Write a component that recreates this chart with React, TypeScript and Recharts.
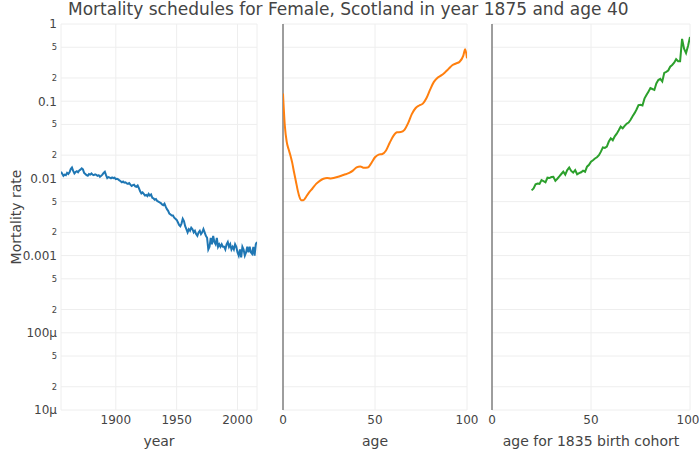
import React from 'react';
import { LineChart, Line, XAxis, YAxis, CartesianGrid, ReferenceLine } from 'recharts';

// Period schedule: age 40 mortality by calendar year
const years = [
  1855, 1856, 1857, 1858, 1859, 1860, 1861, 1862, 1863, 1864, 1865, 1866, 1867, 1868, 1869,
  1870, 1871, 1872, 1873, 1874, 1875, 1876, 1877, 1878, 1879, 1880, 1881, 1882, 1883, 1884,
  1885, 1886, 1887, 1888, 1889, 1890, 1891, 1892, 1893, 1894, 1895, 1896, 1897, 1898, 1899,
  1900, 1901, 1902, 1903, 1904, 1905, 1906, 1907, 1908, 1909, 1910, 1911, 1912, 1913, 1914,
  1915, 1916, 1917, 1918, 1919, 1920, 1921, 1922, 1923, 1924, 1925, 1926, 1927, 1928, 1929,
  1930, 1931, 1932, 1933, 1934, 1935, 1936, 1937, 1938, 1939, 1940, 1941, 1942, 1943, 1944,
  1945, 1946, 1947, 1948, 1949, 1950, 1951, 1952, 1953, 1954, 1955, 1956, 1957, 1958, 1959,
  1960, 1961, 1962, 1963, 1964, 1965, 1966, 1967, 1968, 1969, 1970, 1971, 1972, 1973, 1974,
  1975, 1976, 1977, 1978, 1979, 1980, 1981, 1982, 1983, 1984, 1985, 1986, 1987, 1988, 1989,
  1990, 1991, 1992, 1993, 1994, 1995, 1996, 1997, 1998, 1999, 2000, 2001, 2002, 2003, 2004,
  2005, 2006, 2007, 2008, 2009, 2010, 2011, 2012, 2013, 2014, 2015, 2016,
];
const yearRates = [
  0.0122, 0.0115, 0.0108, 0.0112, 0.011, 0.0118, 0.0114, 0.012, 0.0132, 0.0138, 0.0125, 0.0116, 0.0121, 0.0124, 0.012,
  0.0127, 0.013, 0.0135, 0.0131, 0.0118, 0.0114, 0.011, 0.0108, 0.0114, 0.0112, 0.0116, 0.0112, 0.011, 0.0113, 0.0111,
  0.0108, 0.011, 0.0105, 0.0108, 0.0112, 0.0118, 0.0122, 0.011, 0.0101, 0.0104, 0.0102, 0.01, 0.0103, 0.0101, 0.0102,
  0.0098, 0.0099, 0.0097, 0.0094, 0.0092, 0.0089, 0.0091, 0.0088, 0.0089, 0.0086, 0.0085, 0.0087, 0.0083, 0.008, 0.0082,
  0.0083, 0.0079, 0.0078, 0.0081, 0.0075, 0.0068, 0.0064, 0.0066, 0.0063, 0.006, 0.0061, 0.0059, 0.0063, 0.006, 0.0062,
  0.0056, 0.0055, 0.0053, 0.0054, 0.0051, 0.005, 0.0049, 0.0048, 0.0046, 0.0045, 0.0047, 0.0043, 0.004, 0.0038, 0.0035,
  0.0034, 0.0033, 0.0033, 0.0031, 0.003, 0.0029, 0.0027, 0.0025, 0.0024, 0.0026, 0.003, 0.0028, 0.0024, 0.0022, 0.002,
  0.0022, 0.0021, 0.0023, 0.0022, 0.002, 0.0021, 0.0019, 0.0018, 0.002, 0.0021, 0.0019, 0.002, 0.0022, 0.002, 0.0018,
  0.0017, 0.0012, 0.0013, 0.0017, 0.0014, 0.0018, 0.0015, 0.0014, 0.0017, 0.0013, 0.0014, 0.0013, 0.0014, 0.0013, 0.0013,
  0.0012, 0.0014, 0.0015, 0.0013, 0.0014, 0.0012, 0.0013, 0.0012, 0.0014, 0.0013, 0.0011, 0.001, 0.0012, 0.00095, 0.0013,
  0.0012, 0.001, 0.0011, 0.0013, 0.0011, 0.0013, 0.0011, 0.00105, 0.0013, 0.001, 0.0014, 0.0015,
];

// Period schedule: 1875 mortality by age
const ages = [
  0, 1, 2, 3, 4, 5, 6, 7, 8, 9, 10, 11, 12, 13, 14, 16, 18, 20, 22, 24, 26, 28, 30, 32, 34,
  36, 38, 40, 42, 44, 46, 48, 50, 52, 54, 56, 58, 60, 62, 64, 66, 68, 70, 72, 74, 76, 78, 80,
  82, 84, 86, 88, 90, 92, 94, 96, 98, 99, 100,
];
const ageRates = [
  0.126, 0.048, 0.03, 0.024, 0.02, 0.016, 0.012, 0.0092, 0.007, 0.0057, 0.0052, 0.0052, 0.0055, 0.006, 0.0065, 0.0074, 0.0085, 0.0093, 0.0099, 0.0101, 0.01, 0.0102, 0.0105, 0.0109, 0.0113,
  0.0118, 0.0126, 0.0139, 0.0143, 0.0137, 0.0138, 0.0158, 0.0188, 0.0203, 0.0207, 0.023, 0.029, 0.0355, 0.0395, 0.0398, 0.0425, 0.052, 0.068, 0.081, 0.088, 0.093, 0.11, 0.142,
  0.178, 0.202, 0.216, 0.236, 0.262, 0.292, 0.308, 0.325, 0.39, 0.47, 0.36,
];

// Cohort schedule: born 1835
const cohortAges = [
  20, 21, 22, 23, 24, 25, 26, 27, 28, 29, 30, 31, 32, 33, 34, 35, 36, 37, 38, 39, 40, 41, 42, 43, 44,
  45, 46, 47, 48, 49, 50, 51, 52, 53, 54, 55, 56, 57, 58, 59, 60, 61, 62, 63, 64, 65, 66, 67, 68, 69,
  70, 71, 72, 73, 74, 75, 76, 77, 78, 79, 80, 81, 82, 83, 84, 85, 86, 87, 88, 89, 90, 91, 92, 93, 94,
  95, 96, 97, 98, 99, 100,
];
const cohortRates = [
  0.007, 0.0074, 0.0084, 0.0086, 0.0085, 0.0095, 0.0092, 0.0089, 0.0102, 0.0101, 0.0104, 0.0105, 0.0093, 0.0099, 0.0106, 0.0114, 0.0122, 0.0112, 0.0128, 0.0138, 0.0125, 0.0119, 0.0128, 0.0113, 0.0117,
  0.012, 0.0126, 0.0122, 0.0142, 0.015, 0.0165, 0.0172, 0.0181, 0.0188, 0.02, 0.0222, 0.0252, 0.0248, 0.0258, 0.03, 0.033, 0.0312, 0.035, 0.038, 0.042, 0.0468, 0.0445, 0.048, 0.051, 0.053,
  0.0575, 0.064, 0.07, 0.078, 0.089, 0.09, 0.088, 0.108, 0.12, 0.133, 0.148, 0.144, 0.14, 0.17, 0.188, 0.195, 0.18, 0.233, 0.24, 0.25, 0.28, 0.295, 0.315, 0.35, 0.33,
  0.33, 0.64, 0.48, 0.42, 0.52, 0.68,
];

const yTicks = [
  1e-5, 2e-5, 5e-5, 1e-4, 2e-4, 5e-4, 1e-3, 2e-3, 5e-3, 0.01, 0.02, 0.05, 0.1, 0.2, 0.5, 1,
];
const majorLabels: Record<string, string> = {
  '1': '1', '0.1': '0.1', '0.01': '0.01', '0.001': '0.001', '0.0001': '100µ', '0.00001': '10µ',
};

const FONT = 'verdana, "DejaVu Sans", sans-serif';
const TEXT = '#444';
const GRID = '#eeeeee';

const yearData = years.map((x, i) => ({ x, y: yearRates[i] }));
const ageData = ages.map((x, i) => ({ x, y: ageRates[i] }));
const cohortData = cohortAges.map((x, i) => ({ x, y: cohortRates[i] }));

function YTick({ x, y, payload }: any) {
  const key = String(Number(payload.value.toPrecision(3)));
  const major = majorLabels[key];
  const label = major ?? key.replace(/[0.]/g, '').charAt(0);
  return (
    <text
      x={x}
      y={y}
      dy={major ? 4.3 : 3}
      textAnchor="end"
      fill={TEXT}
      fontSize={major ? 12 : 8.4}
      fontFamily={FONT}
    >
      {label}
    </text>
  );
}

function XTick({ x, y, payload }: any) {
  return (
    <text x={x} y={y} dy={9} textAnchor="middle" fill={TEXT} fontSize={12} fontFamily={FONT}>
      {payload.value}
    </text>
  );
}

interface PanelProps {
  data: { x: number; y: number }[];
  domain: [number, number];
  ticks: number[];
  color: string;
  left: number;
  width: number;
  marginLeft: number;
  marginRight: number;
  showY?: boolean;
  zeroLine?: boolean;
  curve?: 'linear' | 'monotone';
}

function Panel({
  data,
  domain,
  ticks,
  color,
  left,
  width,
  marginLeft,
  marginRight,
  showY = false,
  zeroLine = false,
  curve = 'linear',
}: PanelProps) {
  return (
    <div style={{ position: 'absolute', left, top: 0 }}>
      <LineChart
        width={width}
        height={450}
        data={data}
        margin={{ top: 24, right: marginRight, bottom: 0, left: marginLeft }}
      >
        <CartesianGrid stroke={GRID} strokeWidth={1} />
        <XAxis
          dataKey="x"
          type="number"
          domain={domain}
          ticks={ticks}
          allowDataOverflow
          height={40}
          axisLine={false}
          tickLine={false}
          tickSize={0}
          tickMargin={5}
          tick={<XTick />}
        />
        <YAxis
          scale="log"
          domain={[1e-5, 1]}
          ticks={yTicks}
          allowDataOverflow
          hide={!showY}
          width={61}
          axisLine={false}
          tickLine={false}
          tickSize={0}
          tickMargin={4}
          tick={<YTick />}
        />
        {zeroLine && <ReferenceLine x={0} stroke={TEXT} strokeWidth={1} />}
        <Line
          dataKey="y"
          type={curve}
          stroke={color}
          strokeWidth={2}
          dot={false}
          isAnimationActive={false}
        />
      </LineChart>
    </div>
  );
}

export default function App() {
  return (
    <div
      style={{
        position: 'absolute',
        left: 0,
        top: 0,
        width: 700,
        height: 450,
        background: '#fff',
        fontFamily: FONT,
      }}
    >
      <Panel
        data={yearData}
        domain={[1855, 2016]}
        ticks={[1900, 1950, 2000]}
        color="#1f77b4"
        left={0}
        width={262}
        marginLeft={0}
        marginRight={5}
        showY
      />
      <Panel
        data={ageData}
        domain={[0, 100]}
        ticks={[0, 50, 100]}
        color="#ff7f0e"
        left={278}
        width={204}
        marginLeft={5}
        marginRight={15}
        zeroLine
        curve="monotone"
      />
      <Panel
        data={cohortData}
        domain={[0, 100]}
        ticks={[0, 50, 100]}
        color="#2ca02c"
        left={487}
        width={213}
        marginLeft={5}
        marginRight={10}
        zeroLine
      />
      <svg
        width={700}
        height={450}
        style={{ position: 'absolute', left: 0, top: 0, pointerEvents: 'none' }}
      >
        <text x={68} y={15} fill={TEXT} fontSize={17} fontFamily={FONT}>
          Mortality schedules for Female, Scotland in year 1875 and age 40
        </text>
        <text
          transform="translate(20.5, 217) rotate(-90)"
          textAnchor="middle"
          fill={TEXT}
          fontSize={14}
          fontFamily={FONT}
        >
          Mortality rate
        </text>
        <text x={159} y={446} textAnchor="middle" fill={TEXT} fontSize={14} fontFamily={FONT}>
          year
        </text>
        <text x={375} y={446} textAnchor="middle" fill={TEXT} fontSize={14} fontFamily={FONT}>
          age
        </text>
        <text x={591} y={446} textAnchor="middle" fill={TEXT} fontSize={14} fontFamily={FONT}>
          age for 1835 birth cohort
        </text>
      </svg>
    </div>
  );
}
